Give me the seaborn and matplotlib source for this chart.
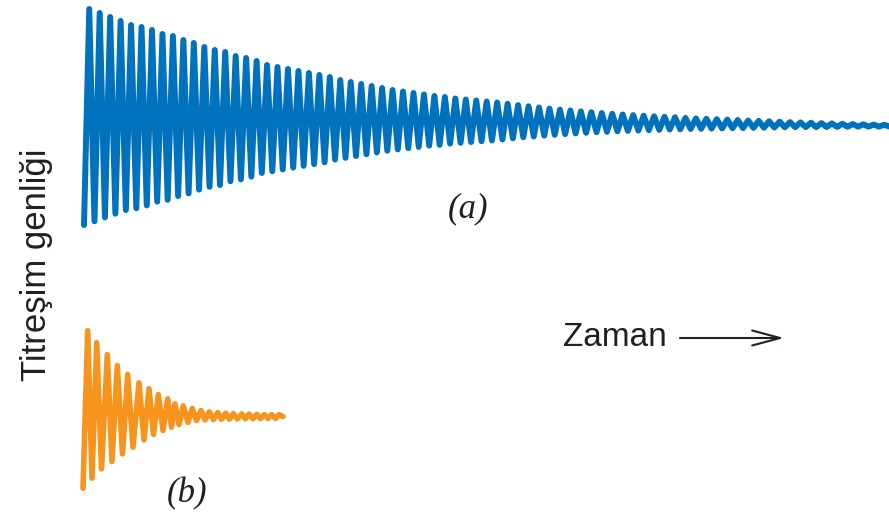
import numpy as np
import pandas as pd
import matplotlib
matplotlib.use("Agg")
import matplotlib.pyplot as plt
import seaborn as sns

# ---------------- data (turning points of the traces, vertical units from the top) -------------
# (a) slowly damped vibration: crest values and trough values, one per cycle
blue_peaks = [9, 13, 17, 21, 25, 27, 30, 34, 36, 40, 43, 47, 50, 52, 56, 58, 61, 65, 67,
              69, 71, 73, 75, 77, 80, 82, 84, 86, 88, 90, 91.5, 93, 94.5, 96, 97, 98.5, 99.5,
              100.5, 101.5,
              102.5, 103.8, 105.1, 106.3, 107.5, 108.6, 109.6, 110.5, 111.4, 112.2, 113.0,
              113.8, 114.5, 115.1, 115.7, 116.3, 116.8, 117.3, 117.9, 118.4, 118.8, 119.2,
              119.6, 120.0, 120.5, 120.9, 121.3, 121.7, 122.1, 122.4, 122.7, 123.1, 123.4,
              123.7, 124.0, 124.3, 124.6, 124.8]
blue_troughs = [225, 221.2, 217.4, 213.7, 210, 208.2, 205.4, 201.6, 199.8, 196, 193.4, 189.6,
                186.8, 185, 181.2, 179.4, 176.6, 173, 171.2,
                169.4, 167.6, 165.8, 164.1, 162.3, 159.5, 157.8, 156.0, 154.2, 152.4, 150.7,
                149.4, 148.1, 146.9, 145.6, 144.8, 143.6, 142.8, 142.0, 141.2,
                140.5, 139.4, 138.3, 137.3, 136.5, 135.6, 134.8, 134.1, 133.4, 132.8, 132.2,
                131.8, 131.3, 130.9, 130.5, 130.1, 129.8, 129.5, 129.3, 129.0, 128.8, 128.6,
                128.4, 128.2, 128.1, 127.9, 127.7, 127.5, 127.3, 127.2, 127.1, 127.1, 127.0,
                126.9, 126.8, 126.7, 126.6, 126.6, 126.5]

# (b) strongly damped vibration: times and values of crests and troughs
orange_peak_t = [87.7, 96.7, 107.3, 117.3, 127.7, 139, 149, 158.3, 167.7, 175, 183.3, 192.3,
                 201, 209.3, 217.7, 225.7, 233.3, 241.7, 249, 256.7, 264.3, 271.7, 279]
orange_peaks = [330.8, 342.8, 354.5, 365.5, 374.5, 382.8, 388.8, 394.5, 398.8, 403.8, 405.8,
                408.5, 410.5, 411.8, 412.6, 413.2, 413.6, 413.9, 414.1, 414.3, 414.5, 414.6,
                414.7]
orange_trough_t = [83, 92, 101.5, 112, 122.5, 133, 144, 153.5, 163, 171.5, 179, 188, 196.5,
                   205, 213.5, 221.5, 229.5, 237.5, 245.5, 253, 260.5, 268, 275.5]
orange_troughs = [488.2, 478.2, 468.9, 461.5, 453.9, 447.2, 440.0, 434.5, 430.5, 427.2, 424.5,
                  422.3, 420.5, 420.0, 419.6, 419.3, 419.1, 418.9, 418.8, 418.7, 418.6, 418.5,
                  418.4]
orange_end_t = 283
orange_end = 416.6

y_label = "Titreşim genliği"
label_a = "(a)"
label_b = "(b)"
x_label = "Zaman"

BLUE = "#0071bc"
ORANGE = "#f7941d"
INK = "#231f20"


def interleave(a, b):
    out = []
    for i in range(max(len(a), len(b))):
        if i < len(a):
            out.append(a[i])
        if i < len(b):
            out.append(b[i])
    return out


blue_vals = interleave(blue_troughs, blue_peaks)
blue_df = pd.DataFrame({"step": np.arange(len(blue_vals)), "amp": blue_vals})

orange_df = pd.DataFrame({
    "t": interleave(orange_trough_t, orange_peak_t) + [orange_end_t],
    "amp": interleave(orange_troughs, orange_peaks) + [orange_end],
})

sns.set_style("white")
plt.rcParams["font.family"] = ["Liberation Sans", "DejaVu Sans"]

W, H = 889, 517
fig = plt.figure(figsize=(W / 100, H / 100), dpi=100)

# trace (a)
ax_a = fig.add_axes([0, 0, 1, 1])
sns.lineplot(data=blue_df, x="step", y="amp", ax=ax_a, color=BLUE, lw=4.3,
             sort=False, estimator=None)
step_a = 5.23
ax_a.set_xlim(-84 / step_a, (W - 84) / step_a)
ax_a.set_ylim(H, 0)
ax_a.axis("off")

# trace (b)
ax_b = fig.add_axes([0, 0, 1, 1])
ax_b.patch.set_alpha(0)
sns.lineplot(data=orange_df, x="t", y="amp", ax=ax_b, color=ORANGE, lw=4.0,
             sort=False, estimator=None)
ax_b.set_xlim(0, W)
ax_b.set_ylim(H, 0)
ax_b.axis("off")

# texts
fig.text(37 / W, 1 - 265 / H, y_label, rotation=90, ha="center", va="center",
         fontsize=25, color=INK)
fig.text(468 / W, 1 - 209 / H, label_a, ha="center", va="center", fontsize=25,
         family=["Liberation Serif", "DejaVu Serif"], style="italic", color=INK)
fig.text(187 / W, 1 - 494 / H, label_b, ha="center", va="center", fontsize=25,
         family=["Liberation Serif", "DejaVu Serif"], style="italic", color=INK)
fig.text(563 / W, 1 - 338 / H, x_label, ha="left", va="center", fontsize=24, color=INK)
ax_a.annotate("", xy=(784 / W, 1 - 338 / H), xytext=(680 / W, 1 - 338 / H),
              xycoords="figure fraction", textcoords="figure fraction",
              arrowprops=dict(arrowstyle="->,head_length=1.0,head_width=0.27",
                              mutation_scale=20, lw=1.5, color=INK,
                              shrinkA=0, shrinkB=0))

fig.savefig("out.png", dpi=100)
